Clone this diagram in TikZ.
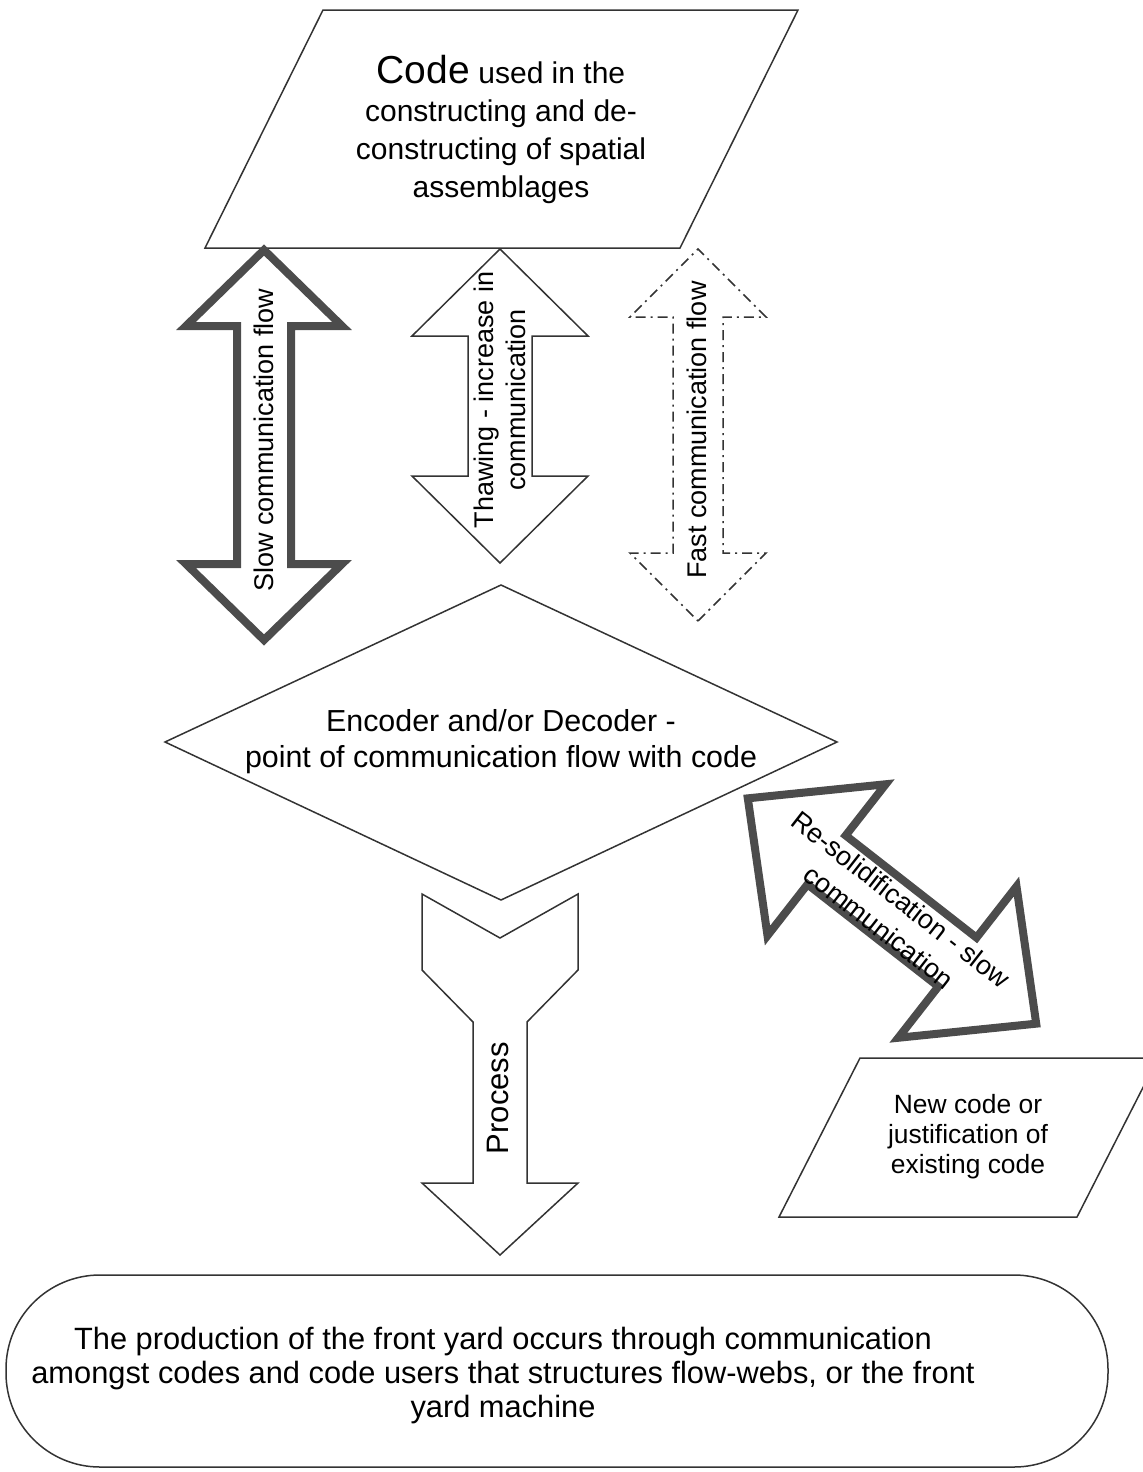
\documentclass[tikz,border=0pt]{standalone}
\usepackage{fontspec}
\setmainfont{Liberation Sans}
\newcommand{\dblarrow}[5]{%
  \draw[#1] (-#2,0) -- ({-#2+#3},#4) -- ({-#2+#3},#5) -- ({#2-#3},#5)
    -- ({#2-#3},#4) -- (#2,0) -- ({#2-#3},-#4) -- ({#2-#3},-#5)
    -- ({-#2+#3},-#5) -- ({-#2+#3},-#4) -- cycle;}

\begin{document}
\begin{tikzpicture}[x=0.5pt, y=-0.5pt,
    outline/.style={draw=black!80, line width=0.75pt},
    heavyarrow/.style={draw=black!70, line width=4pt, line join=miter},
    thinarrow/.style={draw=black!80, line width=0.75pt},
    fastarrow/.style={draw=black!80, line width=0.75pt, dash pattern=on 5pt off 2.5pt on 1pt off 2.5pt},
    body/.style={font=\fontsize{15.2}{18}\selectfont, align=center, inner sep=0pt},
    arrowtext/.style={font=\fontsize{13.5}{16}\selectfont, align=center, inner sep=0pt}]
  \useasboundingbox (0,0) rectangle (1142,1472);

  % code box at the top
  \draw[outline] (323,10) -- (798,10) -- (680,248) -- (205,248) -- cycle;
  \node[body, font=\fontsize{15}{19}\selectfont] (code) at (501,129)
    {{\fontsize{19.5}{19}\selectfont Code} used in the\\ constructing and de-\\ constructing of spatial\\ assemblages};

  % three flows between code and coder
  \begin{scope}[shift={(264,445)}, rotate=90]
    \dblarrow{heavyarrow}{195}{76}{78}{27}
  \end{scope}
  \node[arrowtext, rotate=90] (slow) at (264,440) {Slow communication flow};

  \begin{scope}[shift={(500,406)}, rotate=90]
    \dblarrow{thinarrow}{157}{87}{88}{32}
  \end{scope}
  \node[arrowtext, rotate=90] (thaw) at (500,400) {Thawing - increase in\\ communication};

  \begin{scope}[shift={(698,435)}, rotate=90]
    \dblarrow{fastarrow}{186}{68}{68}{25}
  \end{scope}
  \node[arrowtext, rotate=90] (fast) at (697,430) {Fast communication flow};

  % encoder / decoder
  \draw[outline] (165,742) -- (501,585) -- (837,742) -- (501,900) -- cycle;
  \node[body] (coder) at (501,742) {Encoder and/or Decoder -\\ point of communication flow with code};

  % re-solidification
  \begin{scope}[shift={(892,911)}, rotate=-38]
    \dblarrow{heavyarrow}{183}{100}{96}{31}
  \end{scope}
  \node[arrowtext, font=\fontsize{13.5}{17.5}\selectfont, rotate=-38] (resolid) at (890,913)
    {Re-solidification - slow\\ communication};

  % new code
  \draw[outline] (860,1058) -- (1158,1058) -- (1077,1217) -- (779,1217) -- cycle;
  \node[body, font=\fontsize{13.2}{15}\selectfont] (newcode) at (968,1137)
    {New code or\\ justification of\\ existing code};

  % process
  \draw[outline] (422,894) -- (500,938) -- (578,894) -- (578,970) -- (527,1022) -- (527,1183)
    -- (578,1183) -- (500,1255) -- (422,1183) -- (473,1183) -- (473,1022) -- (422,970) -- cycle;
  \node[arrowtext, font=\fontsize{15.5}{18}\selectfont, rotate=90] (process) at (498,1098) {Process};

  % front yard
  \draw[outline, rounded corners=47pt] (6,1275) rectangle (1108,1467);
  \node[body, font=\fontsize{15.4}{17}\selectfont] (yard) at (503,1376)
    {The production of the front yard occurs through communication\\
     amongst codes and code users that structures flow-webs, or the front\\
     yard machine};
\end{tikzpicture}
\end{document}
